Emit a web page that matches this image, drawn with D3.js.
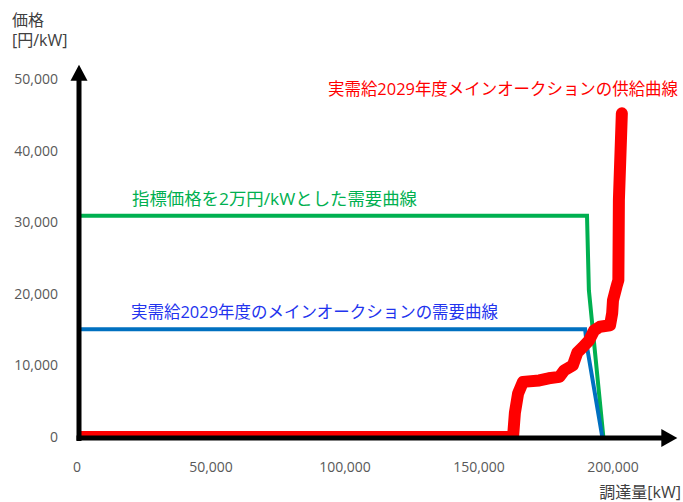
<!DOCTYPE html>
<html><head><meta charset="utf-8">
<script src="https://cdn.jsdelivr.net/npm/d3@7"></script>
<style>
html,body{margin:0;padding:0;background:#fff;}
svg{display:block;font-family:"Open Sans","Noto Sans CJK JP",sans-serif;}
</style></head>
<body>
<svg id="chart" width="683" height="502"></svg>
<script>
// ---- data ----
const xTicks = [0, 50000, 100000, 150000, 200000];
const yTicks = [0, 10000, 20000, 30000, 40000, 50000];

// 指標価格を2万円/kWとした需要曲線
const greenX = [0, 190300, 191000, 196400];
const greenY = [30900, 30900, 20500, 0];

// 実需給2029年度のメインオークションの需要曲線
const blueX = [0, 189600, 190300, 196000];
const blueY = [15050, 15050, 12600, 0];

// 実需給2029年度メインオークションの供給曲線
const redX = [0, 162700, 163400, 164600, 166400, 172500, 176000, 180000, 181800, 185000, 186700, 188600, 191100, 193000, 195100, 198900, 199700, 200000, 201300, 202000, 202200, 203300];
const redY = [0, 0, 3400, 6100, 7700, 7900, 8200, 8400, 9300, 10000, 11800, 12500, 13500, 14900, 15400, 15600, 17300, 19100, 21000, 21900, 33100, 45200];

const labels = {
  yTitle1: "価格", yTitle2: "[円/kW]", xTitle: "調達量[kW]",
  red: "実需給2029年度メインオークションの供給曲線",
  green: "指標価格を2万円/kWとした需要曲線",
  blue: "実需給2029年度のメインオークションの需要曲線"
};

// ---- chart ----
const svg = d3.select("#chart");
const x = d3.scaleLinear().domain([0, 200000]).range([77, 613]);
const y = d3.scaleLinear().domain([0, 50000]).range([437, 79]);

const fmt = d3.format(",");
const tickColor = "#595959";

// y tick labels
svg.append("g").selectAll("text").data(yTicks).join("text")
  .attr("x", x(0) - 19).attr("y", d => y(d) + 5)
  .attr("text-anchor", "end").attr("font-size", 14).attr("fill", tickColor)
  .text(d => fmt(d));

// x tick labels
svg.append("g").selectAll("text").data(xTicks).join("text")
  .attr("x", d => x(d)).attr("y", 472)
  .attr("text-anchor", "middle").attr("font-size", 14).attr("fill", tickColor)
  .text(d => fmt(d));

// titles
svg.append("text").attr("x", 12).attr("y", 26).attr("font-size", 16).attr("fill", "#404040").text(labels.yTitle1);
svg.append("text").attr("x", 12).attr("y", 46).attr("font-size", 16).attr("fill", "#404040").text(labels.yTitle2);
svg.append("text").attr("x", 681).attr("y", 498).attr("text-anchor", "end").attr("font-size", 16).attr("fill", "#404040").text(labels.xTitle);

const line = d3.line().x(d => x(d[0])).y(d => y(d[1]));

const ax0 = x(0) + 2, ay0 = y(0) + 1;

// clip so red baseline sits inside the axes
svg.append("clipPath").attr("id", "clipAbove").append("rect")
  .attr("x", ax0).attr("y", 0).attr("width", 683).attr("height", y(0) - 1);

svg.append("path").datum(greenX.map((v, i) => [v, greenY[i]]))
  .attr("d", line).attr("fill", "none").attr("stroke", "#00B050").attr("stroke-width", 4);

svg.append("path").datum(blueX.map((v, i) => [v, blueY[i]]))
  .attr("d", line).attr("fill", "none").attr("stroke", "#0070C0").attr("stroke-width", 4);

svg.append("path").datum(redX.map((v, i) => [v, redY[i]]))
  .attr("d", line).attr("fill", "none").attr("stroke", "#FF0000").attr("stroke-width", 12)
  .attr("stroke-linejoin", "round").attr("stroke-linecap", "round")
  .attr("clip-path", "url(#clipAbove)");

// axes with arrows
const yTip = y(52000), xTip = x(224000);
svg.append("line").attr("x1", ax0).attr("x2", ax0).attr("y1", ay0 + 3).attr("y2", yTip + 14)
  .attr("stroke", "#000").attr("stroke-width", 5);
svg.append("line").attr("x1", ax0 - 2.5).attr("x2", xTip - 14).attr("y1", ay0).attr("y2", ay0)
  .attr("stroke", "#000").attr("stroke-width", 5);
svg.append("path").attr("d", `M${ax0},${yTip} L${ax0 - 8.5},${yTip + 16} L${ax0 + 8.5},${yTip + 16} Z`).attr("fill", "#000");
svg.append("path").attr("d", `M${xTip},${ay0} L${xTip - 16},${ay0 - 9} L${xTip - 16},${ay0 + 9} Z`).attr("fill", "#000");

// series labels
svg.append("text").attr("x", 328).attr("y", 95).attr("font-size", 16.5).attr("fill", "#FF0000")
  .attr("textLength", 350).attr("lengthAdjust", "spacingAndGlyphs").text(labels.red);
svg.append("text").attr("x", 132).attr("y", 205).attr("font-size", 16.5).attr("fill", "#00B050")
  .attr("textLength", 285).attr("lengthAdjust", "spacingAndGlyphs").text(labels.green);
svg.append("text").attr("x", 131).attr("y", 318).attr("font-size", 16.5).attr("fill", "#2233EE")
  .attr("textLength", 367).attr("lengthAdjust", "spacingAndGlyphs").text(labels.blue);
</script>
</body></html>
